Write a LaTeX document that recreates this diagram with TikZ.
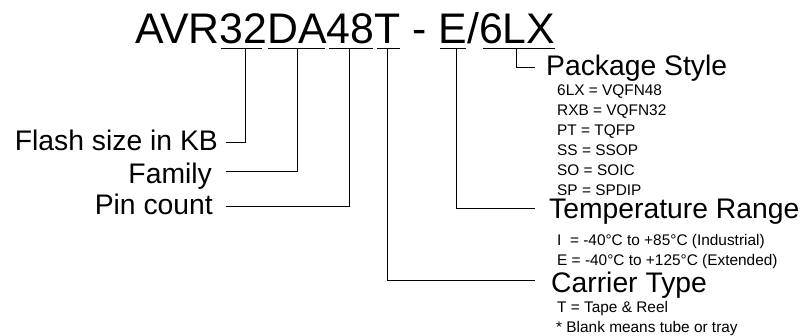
\documentclass[tikz,border=0pt]{standalone}
\usepackage{fontspec}
\setmainfont{Liberation Sans}
\usepackage{tikz}

\begin{document}
\begin{tikzpicture}[x=1pt,y=-1pt,
  part/.style={font=\fontsize{42.8}{50}\selectfont, inner sep=0pt, outer sep=0pt, anchor=base west},
  head/.style={font=\fontsize{28.3}{34}\selectfont, inner sep=0pt},
  item/.style={font=\fontsize{15.4}{20}\selectfont, inner sep=0pt, anchor=base west},
  uline/.style={line width=0.9pt},
  conn/.style={line width=0.9pt}]
\useasboundingbox (0,0) rectangle (800,335);
%\draw[step=50,gray,very thin] (0,0) grid (800,335);
\node[part] (avr) at (135,43) {AVR};
\node[part] (n32) at (avr.base east) {32};
\node[part] (nDA) at (n32.base east) {DA};
\node[part] (n48) at (nDA.base east) {48};
\node[part] (nT) at (n48.base east) {T};
\node[part] (dash) at (nT.base east) {\ -\ \null};
\node[part] (nE) at (dash.base east) {E};
\node[part] (slash) at (nE.base east) {/};
\node[part] (n6LX) at (slash.base east) {6LX};
\draw[uline] ([shift={(1,5)}]n32.base west) -- ([shift={(-5,5)}]n32.base east);
\draw[uline] ([shift={(1,5)}]nDA.base west) -- ([shift={(-2,5)}]nDA.base east);
\draw[uline] ([shift={(2,5)}]n48.base west) -- ([shift={(-2,5)}]n48.base east);
\draw[uline] ([shift={(2,5)}]nT.base west) -- ([shift={(-1,5)}]nT.base east);
\draw[uline] ([shift={(1,5)}]nE.base west) -- ([shift={(-1,5)}]nE.base east);
\draw[uline] ([shift={(4,5)}]n6LX.base west) -- ([shift={(0,5)}]n6LX.base east);
% left labels
\node[head, anchor=base east] (flash) at (218,150) {Flash size in KB};
\node[head, anchor=base east] (family) at (212,183) {Family};
\node[head, anchor=base east] (pins) at (213,214) {Pin count};
\draw[conn] ([shift={(8,-8)}]flash.base east) -| ([shift={(2,5)}]n32.base);
\draw[conn] ([shift={(14,-12)}]family.base east) -| ([shift={(0,5)}]nDA.base);
\draw[conn] ([shift={(13,-8)}]pins.base east) -| ([shift={(-1,5)}]n48.base);
% right labels
\node[head, anchor=base west] (pkg) at (546,75) {Package Style};
\node[head, anchor=base west] (temp) at (549,218) {Temperature Range};
\node[head, anchor=base west] (carrier) at (551,292) {Carrier Type};
\draw[conn] ([shift={(-1,5)}]n6LX.base) |- ([shift={(-11,-8)}]pkg.base west);
\draw[conn] ([shift={(3,5)}]nE.base) |- ([shift={(-14,-10)}]temp.base west);
\draw[conn] ([shift={(0,5)}]nT.base) |- ([shift={(-16,-12)}]carrier.base west);
\node[item] (pkgA) at (557,95) {6LX = VQFN48};
\node[item] (pkgB) at (557,115) {RXB = VQFN32};
\node[item] (pkgC) at (557,135) {PT = TQFP};
\node[item] (pkgD) at (557,155) {SS = SSOP};
\node[item] (pkgE) at (557,175) {SO = SOIC};
\node[item] (pkgF) at (557,195) {SP = SPDIP};
\node[item] (tempA) at (557,245) {I\ \ = -40°C to +85°C (Industrial)};
\node[item] (tempB) at (557,265) {E = -40°C to +125°C (Extended)};
\node[item] (carA) at (557,312) {T = Tape \& Reel};
\node[item] (carB) at (556,332) {* Blank means tube or tray};
\end{tikzpicture}
\end{document}
